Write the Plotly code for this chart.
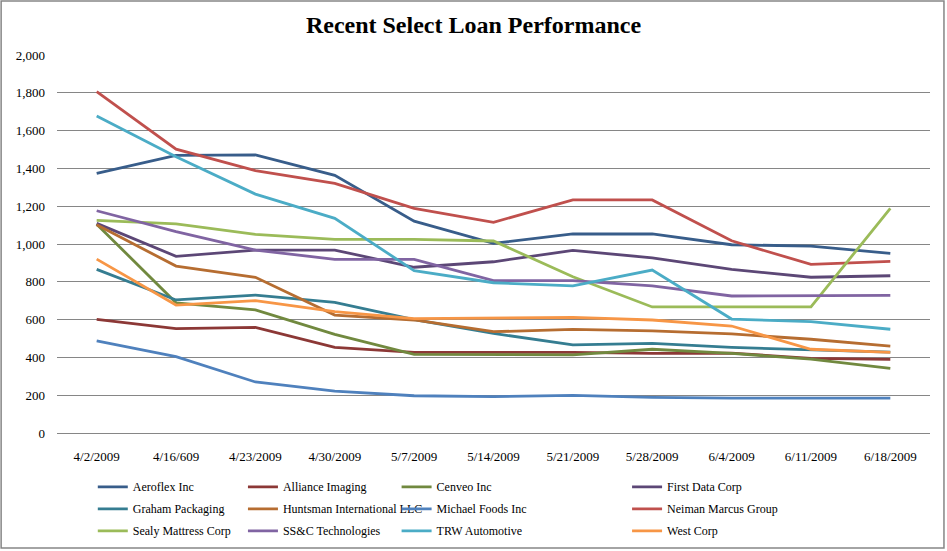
# Recent select loan performance - line chart rebuild
import plotly.graph_objects as go

# %% data
dates = ["4/2/2009", "4/16/609", "4/23/2009", "4/30/2009", "5/7/2009", "5/14/2009",
         "5/21/2009", "5/28/2009", "6/4/2009", "6/11/2009", "6/18/2009"]

aeroflex = [1374, 1469, 1472, 1363, 1121, 1003, 1053, 1053, 996, 989, 950]
alliance = [601, 552, 559, 453, 427, 427, 427, 421, 423, 395, 390]
cenveo = [1105, 689, 651, 522, 416, 413, 413, 443, 421, 391, 342]
first_data = [1109, 935, 968, 968, 877, 906, 966, 927, 866, 824, 832]
graham = [866, 704, 730, 691, 600, 527, 466, 474, 453, 439, 428]
huntsman = [1102, 883, 824, 624, 598, 536, 548, 540, 524, 496, 460]
michael_foods = [488, 404, 270, 222, 197, 192, 199, 189, 185, 185, 185]
neiman = [1806, 1502, 1388, 1321, 1189, 1115, 1233, 1233, 1017, 892, 908]
sealy = [1125, 1106, 1051, 1025, 1025, 1016, 827, 667, 667, 667, 1189]
ssc = [1176, 1065, 968, 919, 919, 806, 806, 778, 725, 725, 728]
trw = [1677, 1462, 1264, 1136, 859, 795, 778, 862, 603, 589, 549]
west = [920, 677, 700, 642, 605, 607, 612, 598, 566, 443, 427]

# name, values, colour, legend column
series = [
    ("Aeroflex Inc", aeroflex, "#385D8A", "legend"),
    ("Alliance Imaging", alliance, "#8C3836", "legend2"),
    ("Cenveo Inc", cenveo, "#71893F", "legend3"),
    ("First Data Corp", first_data, "#5C4776", "legend4"),
    ("Graham Packaging", graham, "#357D91", "legend"),
    ("Huntsman International LLC", huntsman, "#B66D31", "legend2"),
    ("Michael Foods Inc", michael_foods, "#4F81BD", "legend3"),
    ("Neiman Marcus Group", neiman, "#C0504D", "legend4"),
    ("Sealy Mattress Corp", sealy, "#9BBB59", "legend"),
    ("SS&C Technologies", ssc, "#8064A2", "legend2"),
    ("TRW Automotive", trw, "#4BACC6", "legend3"),
    ("West Corp", west, "#F79646", "legend4"),
]

# %% figure
fig = go.Figure()
for name, vals, col, leg in series:
    # own legendgroup per trace so tracegroupgap spaces the legend rows
    fig.add_trace(go.Scatter(x=dates, y=vals, name=name, mode="lines", legendgroup=name,
                             line=dict(color=col, width=2.8), legend=leg))

font = dict(family="Liberation Serif", size=13, color="#000000")
leg_font = dict(family="Liberation Serif", size=12, color="#000000")
leg_style = dict(orientation="v", yanchor="top", y=-0.104, font=leg_font,
                 bgcolor="rgba(0,0,0,0)", itemwidth=30, tracegroupgap=3)

fig.update_layout(
    width=947, height=551,
    paper_bgcolor="white", plot_bgcolor="white",
    margin=dict(l=57, r=17, t=55, b=118, autoexpand=False),
    font=font,
    title=dict(text="<b>Recent Select Loan Performance</b>", x=0.5, xanchor="center",
               y=0.956, yanchor="middle",
               font=dict(family="Liberation Serif", size=24, color="#000000")),
    legend=dict(x=0.041, **leg_style),
    legend2=dict(x=0.213, **leg_style),
    legend3=dict(x=0.389, **leg_style),
    legend4=dict(x=0.653, **leg_style),
)

fig.update_xaxes(type="category", range=[-0.5, 10.5], showgrid=False,
                 showline=True, linecolor="#868686", linewidth=1,
                 ticks="", tickfont=font, ticklabelstandoff=11)
fig.update_yaxes(range=[0, 2000], dtick=200, tickformat=",", showgrid=True,
                 gridcolor="#868686", gridwidth=1, zeroline=False, showline=False,
                 ticks="", tickfont=font, ticklabelstandoff=11)

# outer chart border
fig.add_shape(type="rect", xref="paper", yref="paper",
              x0=-0.064, x1=1.016, y0=-0.304, y1=1.143,
              line=dict(color="#868686", width=1.5), layer="below")

# page body margin off so the chart sits at the window corner
fig.write_html("out.html", config={"displayModeBar": False},
               post_script="document.body.style.margin='0';")
